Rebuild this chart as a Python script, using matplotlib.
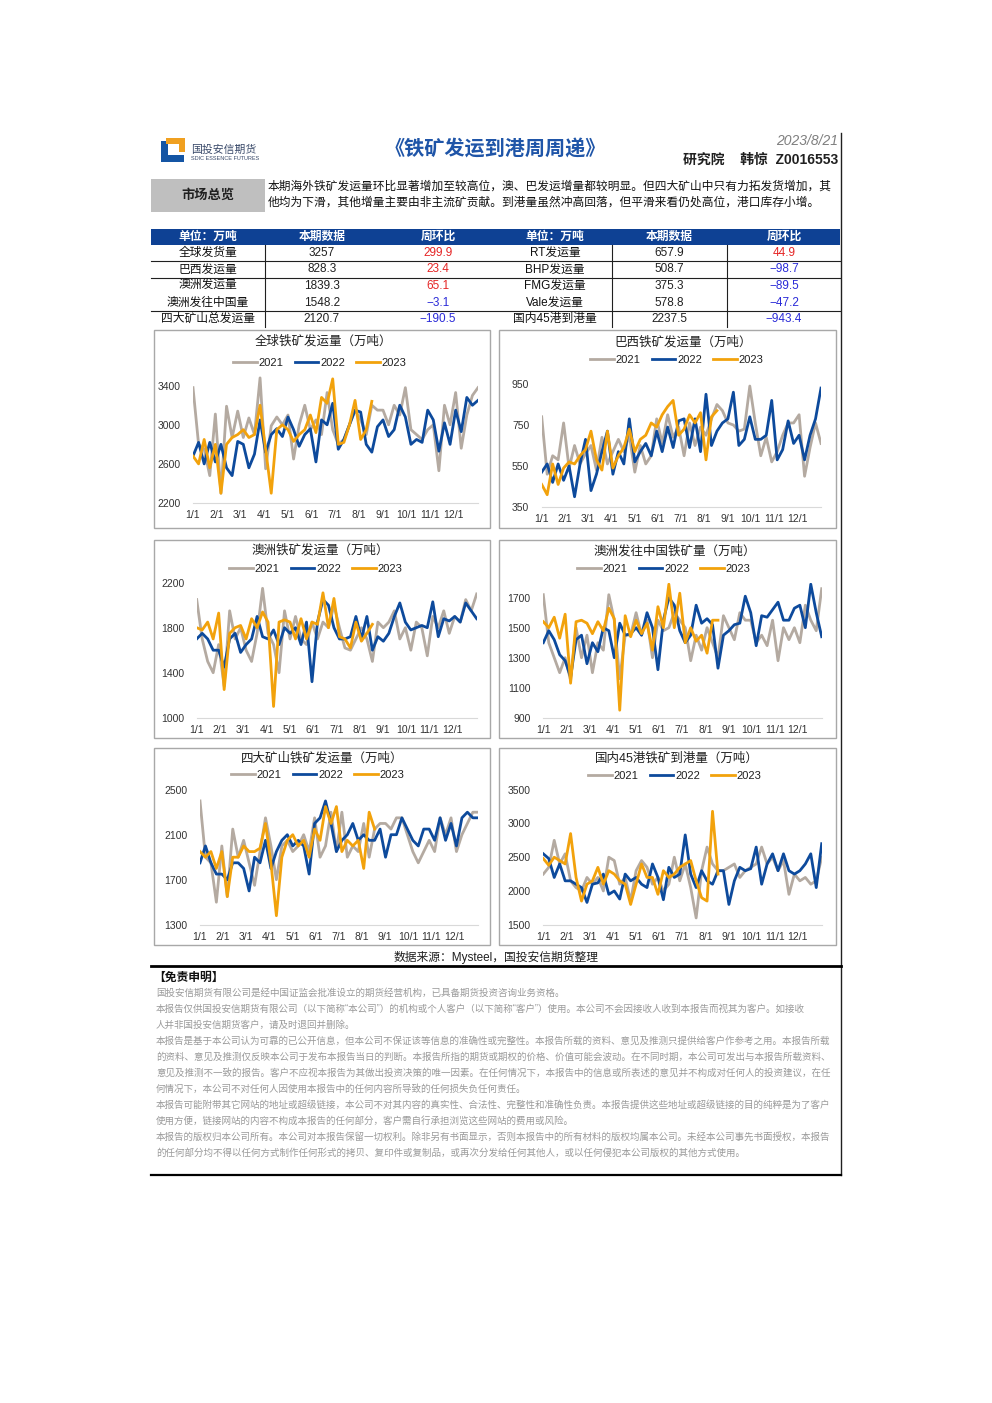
import numpy as np
import matplotlib
matplotlib.use('Agg')
import matplotlib.pyplot as plt
from matplotlib.patches import Rectangle
from matplotlib.lines import Line2D

plt.rcParams['font.family'] = ['Liberation Sans', 'Noto Sans CJK SC', 'DejaVu Sans']

# ---------------- data ----------------
months = ['1/1', '2/1', '3/1', '4/1', '5/1', '6/1', '7/1', '8/1', '9/1', '10/1', '11/1', '12/1']
years = ['2021', '2022', '2023']

global_21 = [3380, 2800, 2750, 2480, 3110, 2300, 3190, 2870, 3140, 2870, 3070, 2900, 3480, 2550, 2990, 3080, 3000, 3100, 2650, 3000,
             3200, 2950, 3050, 2900, 3330, 2950, 2800, 2850, 3000, 3150, 3050, 2900, 3200, 3150, 3150, 3000, 3200, 3100, 3380, 2950,
             2900, 2850, 2950, 3000, 2530, 3200, 3000, 3330, 2760, 3100, 3300, 3380]
global_22 = [2680, 2820, 2600, 2820, 2620, 2800, 2560, 2480, 2830, 2800, 2560, 2700, 3050, 2720, 2900, 2960, 2880, 3080, 2950, 2780,
             2900, 2960, 2620, 3050, 3000, 3220, 2750, 2850, 3000, 3150, 3130, 2800, 2720, 2980, 3050, 2880, 2950, 3200, 3080, 2800,
             2850, 2820, 3150, 3050, 2730, 3020, 2800, 3150, 2930, 3280, 3200, 3250]
global_23 = [2680, 2600, 2850, 2560, 2800, 2300, 2800, 2870, 2900, 2950, 2870, 2900, 3200, 2750, 2300, 2950, 3000, 2950, 2830, 2900,
             2950, 3100, 2920, 3280, 3220, 3470, 2800, 2820, 3000, 3250, 2850, 2950, 3240]

brazil_21 = [790, 510, 600, 580, 760, 540, 650, 560, 610, 650, 530, 690, 560, 620, 680, 620, 700, 520, 650, 560,
             600, 780, 660, 800, 690, 740, 600, 760, 650, 740, 700, 780, 850, 820, 760, 750, 720, 730, 940, 760,
             600, 690, 570, 620, 700, 760, 760, 800, 500, 640, 760, 660]
brazil_22 = [520, 560, 470, 560, 480, 550, 400, 560, 680, 430, 510, 620, 720, 510, 620, 560, 780, 570, 620, 660,
             600, 720, 620, 740, 640, 770, 780, 640, 780, 620, 900, 650, 720, 760, 780, 910, 650, 680, 790, 680,
             680, 700, 870, 580, 630, 770, 660, 700, 580, 700, 780, 930]
brazil_23 = [460, 410, 560, 460, 540, 570, 560, 600, 630, 720, 580, 530, 720, 540, 600, 640, 730, 620, 680, 700,
             760, 740, 800, 840, 870, 700, 730, 800, 760, 810, 580, 790, 820]

aus_21 = [2050, 1700, 1500, 1400, 1650, 1280, 1950, 1700, 1800, 1600, 1500, 1750, 2150, 1750, 1650, 1400, 1950, 1700, 1900, 1700,
          1650, 1850, 1700, 1850, 1800, 2000, 1800, 1620, 1600, 1700, 1800, 1700, 1500, 1850, 1800, 1850, 1950, 1700, 1800, 1600,
          1850, 1800, 1550, 1900, 1800, 1950, 1750, 1900, 1850, 2050, 1950, 2100]
aus_22 = [1700, 1750, 1700, 1600, 1600, 1450, 1700, 1750, 1580, 1650, 1700, 1900, 1720, 1700, 1780, 1650, 1800, 1750, 1800, 1650,
          1850, 1320, 1850, 2050, 2000, 1800, 1700, 1700, 1720, 1900, 1700, 1900, 1600, 1720, 1680, 1750, 1900, 2020, 1850, 1780,
          1800, 1820, 1800, 2030, 1720, 1880, 1860, 1900, 1850, 2020, 1950, 1880]
aus_23 = [1800, 1780, 1850, 1700, 1930, 1250, 1750, 1800, 1820, 1700, 1880, 1800, 1940, 1850, 1100, 1850, 1870, 1850, 1700, 1880,
          1700, 1850, 1830, 2110, 1800, 2060, 1720, 1700, 1620, 1850, 1680, 1750, 1830]

auscn_21 = [1720, 1400, 1300, 1200, 1300, 1150, 1500, 1300, 1450, 1200, 1400, 1350, 1720, 1550, 1160, 1450, 1450, 1600, 1450, 1550,
            1300, 1550, 1480, 1500, 1600, 1550, 1500, 1280, 1450, 1350, 1500, 1400, 1300, 1580, 1500, 1420, 1600, 1550, 1550, 1400,
            1450, 1380, 1550, 1280, 1500, 1420, 1500, 1400, 1650, 1550, 1480, 1760]
auscn_22 = [1400, 1480, 1420, 1320, 1280, 1170, 1420, 1450, 1260, 1400, 1340, 1500, 1480, 1300, 1530, 1450, 1460, 1500, 1450, 1600,
            1500, 1220, 1550, 1700, 1650, 1480, 1400, 1450, 1650, 1530, 1560, 1520, 1230, 1450, 1480, 1520, 1530, 1710, 1600, 1380,
            1580, 1570, 1620, 1670, 1550, 1550, 1630, 1650, 1500, 1790, 1600, 1440]
auscn_23 = [1540, 1500, 1570, 1430, 1590, 1130, 1540, 1550, 1530, 1460, 1540, 1480, 1630, 1560, 950, 1580, 1440, 1550, 1460, 1530,
            1350, 1640, 1500, 1790, 1500, 1730, 1400, 1500, 1410, 1450, 1330, 1550, 1550]

big4_21 = [2400, 1900, 1850, 1500, 2000, 1550, 2150, 1900, 2050, 1850, 1650, 1950, 2250, 2000, 1700, 2000, 2050, 1950, 2000, 2100,
           1950, 2250, 1900, 2000, 2300, 1950, 2300, 1900, 2000, 1950, 2200, 1900, 2150, 2200, 2200, 2150, 2250, 2250, 2100, 1950,
           1850, 1950, 2050, 1950, 2250, 2100, 2250, 1950, 2100, 2200, 2300, 2300]
big4_22 = [1850, 2000, 1850, 1750, 1750, 1700, 1850, 1850, 1800, 1600, 1900, 1850, 2050, 1800, 1950, 2050, 2100, 2000, 2050, 2000,
           1750, 2200, 2250, 2400, 2200, 1950, 2050, 2100, 2200, 2050, 2100, 2050, 2050, 2150, 1900, 2100, 2100, 2250, 2150, 2050,
           2000, 2150, 2150, 2050, 2250, 2050, 2200, 2000, 2250, 2300, 2250, 2250]
big4_23 = [1950, 1900, 1950, 1800, 1950, 1550, 1900, 1900, 2000, 1950, 1950, 1980, 2200, 1850, 1380, 1900, 2050, 2100, 2000, 2050,
           1900, 2150, 2050, 2350, 2200, 2350, 1950, 2050, 2000, 2050, 1800, 2300, 2150]

port_21 = [2250, 2350, 2750, 2400, 2550, 2150, 2050, 2000, 2200, 2100, 2200, 2000, 2500, 2450, 2100, 2200, 1850, 2300, 2450, 2350,
           2100, 2200, 2000, 2100, 2500, 2150, 2400, 2050, 1600, 2300, 2650, 2400, 2300, 2300, 2350, 2400, 2200, 2300, 2350, 2400,
           2650, 2400, 2500, 2300, 2450, 1950, 2250, 2150, 2200, 2100, 2150, 2500]
port_22 = [2550, 2480, 2200, 2400, 2150, 2150, 2100, 2050, 1830, 2100, 2120, 2250, 1950, 2000, 1880, 2250, 2150, 2200, 2100, 2050,
           2400, 2200, 1870, 2350, 2200, 2250, 2830, 2250, 2050, 2300, 2150, 2100, 2300, 2300, 1800, 2150, 2350, 2300, 2330, 2650,
           2100, 2400, 2550, 2300, 2550, 2300, 2250, 2300, 2400, 2550, 2050, 2700]
port_23 = [2480, 2380, 2500, 2450, 2400, 2850, 2200, 1850, 2100, 2150, 2350, 2100, 2300, 2250, 2150, 2100, 1800, 2100, 2400, 2200,
           2200, 1950, 2300, 2200, 2250, 2350, 2400, 2450, 2150, 1900, 1850, 3180, 2250]

table_head = ['单位：万吨', '本期数据', '周环比', '单位：万吨', '本期数据', '周环比']
left_names = ['全球发货量', '巴西发运量', '澳洲发运量', '澳洲发往中国量', '四大矿山总发运量']
left_vals = ['3257', '828.3', '1839.3', '1548.2', '2120.7']
left_chg = [299.9, 23.4, 65.1, -3.1, -190.5]
right_names = ['RT发运量', 'BHP发运量', 'FMG发运量', 'Vale发运量', '国内45港到港量']
right_vals = ['657.9', '508.7', '375.3', '578.8', '2237.5']
right_chg = [44.9, -98.7, -89.5, -47.2, -943.4]

summary = ['本期海外铁矿发运量环比显著增加至较高位，澳、巴发运增量都较明显。但四大矿山中只有力拓发货增加，其',
           '他均为下滑，其他增量主要由非主流矿贡献。到港量虽然冲高回落，但平滑来看仍处高位，港口库存小增。']

disclaimer = [
    '国投安信期货有限公司是经中国证监会批准设立的期货经营机构，已具备期货投资咨询业务资格。',
    '本报告仅供国投安信期货有限公司（以下简称“本公司”）的机构或个人客户（以下简称“客户”）使用。本公司不会因接收人收到本报告而视其为客户。如接收',
    '人并非国投安信期货客户，请及时退回并删除。',
    '本报告是基于本公司认为可靠的已公开信息，但本公司不保证该等信息的准确性或完整性。本报告所载的资料、意见及推测只提供给客户作参考之用。本报告所载',
    '的资料、意见及推测仅反映本公司于发布本报告当日的判断。本报告所指的期货或期权的价格、价值可能会波动。在不同时期，本公司可发出与本报告所载资料、',
    '意见及推测不一致的报告。客户不应视本报告为其做出投资决策的唯一因素。在任何情况下，本报告中的信息或所表述的意见并不构成对任何人的投资建议，在任',
    '何情况下，本公司不对任何人因使用本报告中的任何内容所导致的任何损失负任何责任。',
    '本报告可能附带其它网站的地址或超级链接，本公司不对其内容的真实性、合法性、完整性和准确性负责。本报告提供这些地址或超级链接的目的纯粹是为了客户',
    '使用方便，链接网站的内容不构成本报告的任何部分，客户需自行承担浏览这些网站的费用或风险。',
    '本报告的版权归本公司所有。本公司对本报告保留一切权利。除非另有书面显示，否则本报告中的所有材料的版权均属本公司。未经本公司事先书面授权，本报告',
    '的任何部分均不得以任何方式制作任何形式的拷贝、复印件或复制品，或再次分发给任何其他人，或以任何侵犯本公司版权的其他方式使用。',
]

# ---------------- page helpers (pixel coords, y down) ----------------
W, H = 992, 1403
fig = plt.figure(figsize=(W / 100, H / 100), dpi=100)


def fx(x):
    return x / W


def fy(y):
    return 1 - y / H


def txt(x, y, s, **kw):
    kw.setdefault('va', 'center')
    fig.text(fx(x), fy(y), s, **kw)


def line(x0, y0, x1, y1, **kw):
    fig.add_artist(Line2D([fx(x0), fx(x1)], [fy(y0), fy(y1)], transform=fig.transFigure, **kw))


def box(x0, y0, x1, y1, **kw):
    fig.add_artist(Rectangle((fx(x0), fy(y1)), (x1 - x0) / W, (y1 - y0) / H,
                             transform=fig.transFigure, **kw))


def fmt_chg(v):
    return f'{v:g}'.replace('-', '\u2212')


BLUE_HEAD = '#0E4194'

# ---------------- header ----------------
# logo
box(161, 141, 168, 162, facecolor='#1455A4', edgecolor='none')
box(161, 155, 184, 162, facecolor='#1455A4', edgecolor='none')
box(166, 138, 185, 144, facecolor='#F0A020', edgecolor='none')
box(179, 138, 185, 152, facecolor='#F0A020', edgecolor='none')
txt(191, 149.5, '国投安信期货', fontsize=7.8, color='#3A4A6A')
txt(191, 158.5, 'SDIC ESSENCE FUTURES', fontsize=4.0, color='#3A4A6A')

txt(495, 150, '《铁矿发运到港周周递》', fontsize=14.5, color='#1F55A8', ha='center', fontweight='bold')
txt(838, 141, '2023/8/21', fontsize=10, color='#7F7F7F', ha='right', style='italic')
txt(838, 160, '研究院    韩惊  Z0016553', fontsize=10, color='#202020', ha='right', fontweight='bold')

line(840.5, 133, 840.5, 1175, color='#202020', lw=1.0)

box(151, 179, 265, 212, facecolor='#BFBFBF', edgecolor='none')
txt(208, 195.5, '市场总览', fontsize=9.5, ha='center', fontweight='bold', color='#202020')
for i, s in enumerate(summary):
    txt(268, 187 + 16 * i, s, fontsize=8.45, color='#101010')

# ---------------- table ----------------
box(151, 228.5, 840, 245, facecolor=BLUE_HEAD, edgecolor='none')
col_x = [208, 322, 438, 555, 669, 784]
for cx, s in zip(col_x, table_head):
    txt(cx, 236.8, s, fontsize=8.5, color='white', ha='center', fontweight='bold')
row_y = [253, 269.5, 286, 302.5, 319]
for r in range(5):
    y = row_y[r]
    txt(col_x[0], y, left_names[r], fontsize=8.5, ha='center', color='#101010')
    txt(col_x[1], y, left_vals[r], fontsize=8.5, ha='center', color='#202020')
    txt(col_x[2], y, fmt_chg(left_chg[r]), fontsize=8.5, ha='center',
        color='#E52525' if left_chg[r] > 0 else '#2A2AD8')
    txt(col_x[3], y, right_names[r], fontsize=8.5, ha='center', color='#101010')
    txt(col_x[4], y, right_vals[r], fontsize=8.5, ha='center', color='#202020')
    txt(col_x[5], y, fmt_chg(right_chg[r]), fontsize=8.5, ha='center',
        color='#E52525' if right_chg[r] > 0 else '#2A2AD8')
for y in [261, 277.5, 311]:
    line(151, y, 840, y, color='#202020', lw=0.8)
for x in [265, 612, 727]:
    line(x, 245, x, 327, color='#202020', lw=0.8)

# ---------------- charts ----------------
C21, C22, C23 = '#B4AAA1', '#0D4A9C', '#F2A20C'
tick_pos = np.arange(12) * 4.24

charts = [
    # title, series, panel box, x0, x1, (v, px), (v, px), ylim, yticks, title xy, legend xy
    ('全球铁矿发运量（万吨）', (global_21, global_22, global_23), (154, 330, 490, 528),
     193, 478, (3400, 385.7), (2200, 503), (2200, 3500), [2200, 2600, 3000, 3400], (323, 341), (320, 363)),
    ('巴西铁矿发运量（万吨）', (brazil_21, brazil_22, brazil_23), (499, 330, 836, 528),
     541.7, 821, (950, 384), (350, 507), (350, 1000), [350, 550, 750, 950], (683, 342), (677, 360)),
    ('澳洲铁矿发运量（万吨）', (aus_21, aus_22, aus_23), (154, 540, 490, 738),
     196.7, 476.7, (2200, 582.7), (1000, 717.7), (1000, 2250), [1000, 1400, 1800, 2200], (320, 550), (316, 569)),
    ('澳洲发往中国铁矿量（万吨）', (auscn_21, auscn_22, auscn_23), (499, 540, 836, 738),
     543.3, 821.7, (1700, 597.7), (900, 717.7), (900, 1800), [900, 1100, 1300, 1500, 1700], (675, 551), (664, 569)),
    ('四大矿山铁矿发运量（万吨）', (big4_21, big4_22, big4_23), (154, 748, 490, 945),
     200, 478.3, (2500, 789.7), (1300, 924.7), (1300, 2550), [1300, 1700, 2100, 2500], (322, 758), (318, 775)),
    ('国内45港铁矿到港量（万吨）', (port_21, port_22, port_23), (499, 748, 836, 945),
     543.3, 821.7, (3500, 789.7), (1500, 924.7), (1500, 3550), [1500, 2000, 2500, 3000, 3500], (677, 759), (675, 776)),
]

for title, series, pbox, x0, x1, (va, pa), (vb, pb), (ymin, ymax), yticks, (tx, ty), (lx, ly) in charts:
    box(pbox[0], pbox[1], pbox[2], pbox[3], facecolor='none', edgecolor='#A8A8A8', lw=1.0)
    scale = (pb - pa) / (vb - va)
    bottom = pa + (ymin - va) * scale
    top = pa + (ymax - va) * scale
    ax = fig.add_axes([fx(x0), fy(bottom), (x1 - x0) / W, (bottom - top) / H])
    handles = []
    for vals, c in zip(series, [C21, C22, C23]):
        h, = ax.plot(np.arange(len(vals)), vals, color=c, lw=2.0, solid_joinstyle='round')
        handles.append(h)
    ax.set_xlim(0, 51)
    ax.set_ylim(ymin, ymax)
    ax.set_yticks(yticks)
    ax.set_xticks(tick_pos)
    ax.set_xticklabels(months)
    ax.tick_params(length=0, labelsize=7.5, colors='#333333')
    ax.tick_params(axis='y', pad=9)
    ax.tick_params(axis='x', pad=5)
    for s in ['left', 'right', 'top']:
        ax.spines[s].set_visible(False)
    ax.spines['bottom'].set_color('#D9D9D9')
    ax.patch.set_alpha(0)
    txt(tx, ty, title, fontsize=9, ha='center', color='#202020')
    fig.legend(handles, years, loc='center', bbox_to_anchor=(fx(lx), fy(ly)), ncol=3, frameon=False,
               fontsize=8, handlelength=2.1, handletextpad=0.2, columnspacing=1.0, borderpad=0,
               labelcolor='#202020')

txt(496, 957, '数据来源：Mysteel，国投安信期货整理', fontsize=8.5, ha='center', color='#202020')

# ---------------- disclaimer ----------------
line(151, 965.5, 841, 965.5, color='#000000', lw=2.0)
txt(153, 978, '【免责申明】', fontsize=8.5, fontweight='bold', color='#101010')
for i, s in enumerate(disclaimer):
    txt(156, 993 + 16.0 * i, s, fontsize=6.85, color='#9A9A9A')
line(151, 1175, 841, 1175, color='#000000', lw=1.6)

fig.savefig('out.png', dpi=100)
